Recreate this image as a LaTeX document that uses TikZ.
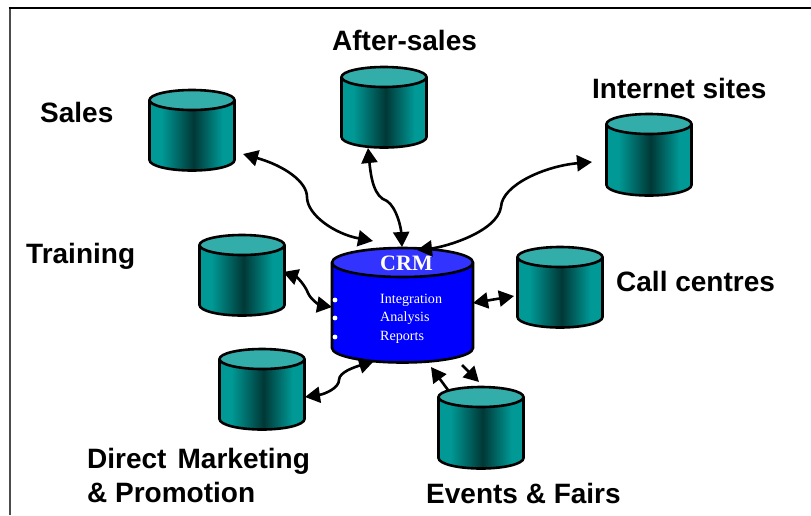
\documentclass[tikz,border=0pt]{standalone}
\usepackage{fontspec}
\setmainfont{Liberation Sans}
\newfontfamily\serifface{Liberation Serif}
\usetikzlibrary{arrows.meta,calc}
\definecolor{tealtop}{RGB}{51,173,170}
\definecolor{tealside}{RGB}{0,153,150}
\definecolor{tealdark}{RGB}{0,56,54}
\definecolor{crmtop}{RGB}{51,51,255}
\pgfdeclarehorizontalshading{drumshade}{100bp}{color(0bp)=(tealside); color(32bp)=(tealside); color(51bp)=(tealdark); color(68bp)=(tealside); color(100bp)=(tealside)}
\tikzset{x=1pt,y=-1pt,
 lab/.style={font=\bfseries\fontsize{28}{30}\selectfont,inner sep=0pt,anchor=base west},
 link/.style={line width=2.6pt,{Triangle[length=15pt,width=16pt]}-{Triangle[length=15pt,width=16pt]}},
 onelink/.style={line width=2.6pt,-{Triangle[length=15pt,width=16pt]}},
 crmtxt/.style={text=white,font=\serifface\fontsize{14.1}{16}\selectfont,inner sep=0pt,anchor=west},
 outline/.style={line width=2.6pt},
}
% cx, top-ellipse centre y, body height (to lower ellipse centre), name
\newcommand{\drum}[4]{%
 \shade[shading=drumshade]
   (#1-42.5,#2) -- (#1-42.5,#2+#3) arc[start angle=180,end angle=0,x radius=42.5,y radius=10.5] -- (#1+42.5,#2) -- cycle;
 \draw[outline] (#1-42.5,#2) -- (#1-42.5,#2+#3) arc[start angle=180,end angle=0,x radius=42.5,y radius=10.5] -- (#1+42.5,#2);
 \draw[outline,fill=tealtop] (#1,#2) ellipse[x radius=42.5,y radius=10];
 \coordinate (#4) at (#1,#2);
}
\begin{document}
\begin{tikzpicture}
\useasboundingbox (0,0) rectangle (811,515);
\draw[line width=2pt,black!70] (9.7,515) -- (9.7,8);
\draw[line width=2.4pt] (8.7,7.8) -- (811,7.8);
\drum{192}{100}{60}{sales}
\drum{384}{77}{60}{after}
\drum{649}{124}{61}{inet}
\drum{242}{245}{60}{train}
\drum{560}{257}{60}{call}
\drum{262}{359}{60}{dm}
\drum{481}{397}{61}{ev}
% CRM
\draw[outline,fill=blue] (332,263) -- (332,348) arc[start angle=180,end angle=0,x radius=70.5,y radius=14.5] -- (473,263);
\draw[outline,fill=crmtop] (402.5,262.5) ellipse[x radius=70.5,y radius=14.5];
\node[text=white,font=\serifface\bfseries\fontsize{22}{24}\selectfont,inner sep=0pt] (crmt) at (406.5,263) {CRM};
\foreach \n/\y/\t in {a/300/Integration,b/318/Analysis,c/337/Reports}{
 \node[crmtxt] (t\n) at (380,\y) {\t};
 \fill[white] (335,\y) circle (2.4pt);
}
% labels
\node[lab] (lsales) at (40,122) {Sales};
\node[lab] (lafter) at (332,50) {After-sales};
\node[lab] (linet) at (592,98) {Internet sites};
\node[lab] (ltrain) at (26,263) {Training};
\node[lab] (lcall) at (616,291) {Call centres};
\node[lab] (ldm) at (87,468) {Direct\hspace{0.12em} Marketing};
\node[lab] (ldm2) at (87,502) {\& Promotion};
\node[lab] (lev) at (426,503) {Events \& Fairs};
% connectors
\coordinate (s1) at (243,154); \coordinate (s2) at (373,241);
\draw[link] (s1) .. controls (285,166) and (307,182) .. (307,197) .. controls (307,215) and (335,234) .. (s2);
\coordinate (a1) at (368,148); \coordinate (a2) at (402,247);
\draw[link] (a1) .. controls (371,178) and (374,197) .. (387,201) .. controls (397,208) and (401,228) .. (a2);
\coordinate (i1) at (592,162); \coordinate (i2) at (417,250);
\draw[link] (i1) .. controls (545,166) and (502,185) .. (501,207) .. controls (497,232) and (445,247) .. (i2);
\coordinate (t1) at (283,272); \coordinate (t2) at (332,307);
\draw[link] (t1) .. controls (297,277) and (305,285) .. (308,293) .. controls (311,300) and (320,305) .. (t2);
\coordinate (c1) at (473,303); \coordinate (c2) at (514,296);
\draw[link] (c1) -- (c2);
\coordinate (d1) at (305,397); \coordinate (d2) at (374,361);
\draw[link] (d1) .. controls (325,394) and (339,388) .. (339,380) .. controls (339,372) and (355,367) .. (d2);
\coordinate (e1) at (448,390); \coordinate (e2) at (431,367);
\draw[onelink] (e1) -- (e2);
\coordinate (f1) at (462,365); \coordinate (f2) at (479,382);
\draw[onelink] (f1) -- (f2);
\end{tikzpicture}
\end{document}
